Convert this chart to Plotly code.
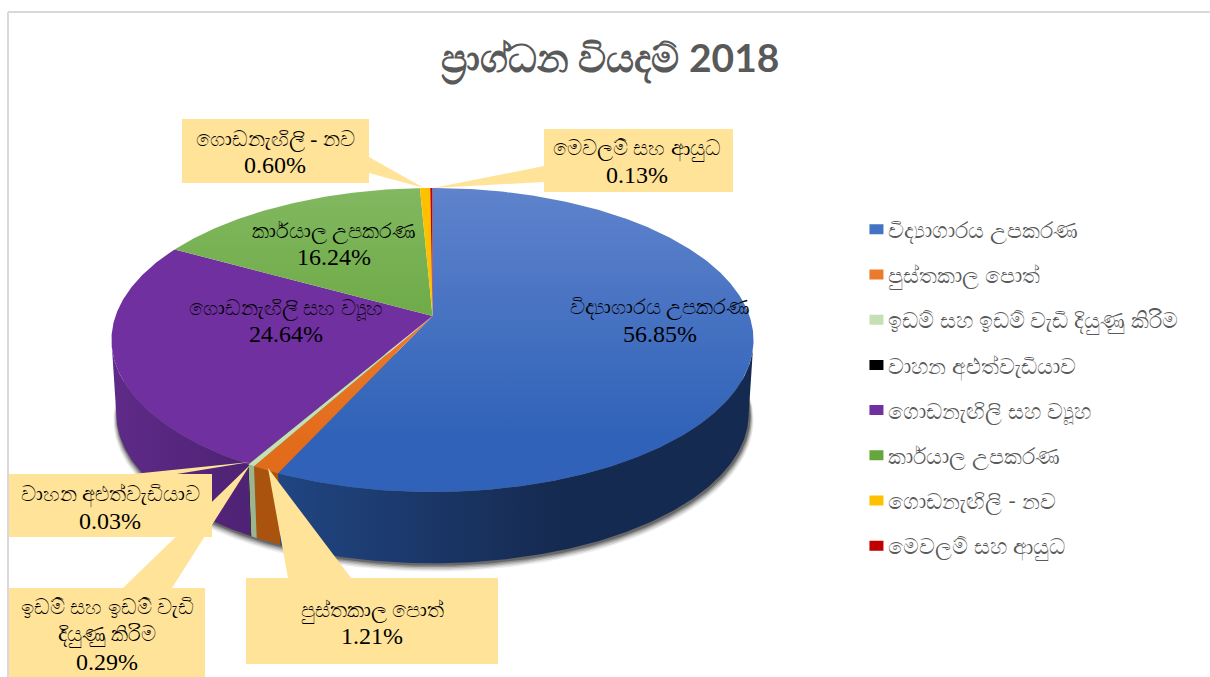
import numpy as np
import plotly.graph_objects as go

categories = ["විද්‍යාගාරය උපකරණ", "පුස්තකාල පොත්", "ඉඩම් සහ ඉඩම් වැඩි දියුණු කිරිම", "වාහන අළුත්වැඩියාව",
              "ගොඩනැඟිලි සහ ව්‍යූහ", "කාර්\u200cයාල උපකරණ", "ගොඩනැඟිලි - නව", "මෙවලම් සහ ආයුධ"]
values = [56.85, 1.21, 0.29, 0.03, 24.64, 16.24, 0.60, 0.13]
title_text = "ප්‍රාග්ධන වියදම් 2018"

top_light = ["#5F83CC", "#F08A45", "#C5E0B4", "#000000", "#7030A0", "#82B860", "#FFC000", "#C00000"]
top_dark = ["#2F62B8", "#E36C1A", "#C5E0B4", "#000000", "#7030A0", "#5C9E31", "#FFC000", "#C00000"]
side_light = ["#214684", "#A9530F", "#9DB58E", "#000000", "#5E2B88", "#4E7A2A", "#B08500", "#800000"]
side_dark = ["#152A50", "#A9530F", "#9DB58E", "#000000", "#4E2274", "#4E7A2A", "#B08500", "#800000"]
legend_keys = ["#4472C4", "#EC7A2D", "#C5E0B4", "#000000", "#7030A0", "#66A63C", "#FFC000", "#C00000"]

CX, CY, A, H, K = 432.5, 316.0, 317.0, 148.2, 0.1579
DEPTH, SHRINK = 74.0, 0.985
SERIF = "Liberation Serif"
SANS = "Lato"
BOX = "#FFE399"


def rim(t_deg):
    t = np.radians(np.asarray(t_deg, dtype=float))
    u, v = np.sin(t), np.cos(t)
    w = 1 + K * v
    return CX + A * u / w, CY - H * v / w


def low(x, y, extra=0.0):
    return CX + (x - CX) * (SHRINK + extra), CY + DEPTH + (y - CY) * (SHRINK + extra)


edges = np.concatenate([[0.0], np.cumsum(values)]) / sum(values) * 360.0
vis0 = np.degrees(np.arccos(-K))
vis1 = 360.0 - vis0

fig = go.Figure()

# soft shadow under the pie
tt = np.linspace(vis0 - 25, vis1 + 25, 240)
sx, sy = rim(tt)
for i, alpha in enumerate([0.07, 0.10, 0.14, 0.20, 0.28]):
    grow = (5 - i) * 0.0024
    bx, by = low(sx, sy, grow)
    fig.add_trace(go.Scatter(x=bx + 1, y=by + (5 - i) * 1.0 + 1, mode="lines", fill="toself",
                             fillcolor=f"rgba(0,0,0,{alpha})", line=dict(width=0),
                             hoverinfo="skip", showlegend=False))

# side walls
for i in range(len(values)):
    a0, a1 = max(edges[i], vis0), min(edges[i + 1], vis1)
    if a1 <= a0:
        continue
    t = np.linspace(a0, a1, max(2, int((a1 - a0) * 2)))
    x, y = rim(t)
    bx, by = low(x, y)
    fig.add_trace(go.Scatter(
        x=np.concatenate([x, bx[::-1]]), y=np.concatenate([y, by[::-1]]),
        mode="lines", fill="toself", line=dict(width=0),
        fillgradient=dict(type="horizontal", colorscale=[[0, side_light[i]], [1, side_dark[i]]],
                          start=270 if i == 0 else None, stop=560 if i == 0 else None),
        hoverinfo="skip", showlegend=False))

# top face
for i, (name, val) in enumerate(zip(categories, values)):
    t = np.linspace(edges[i], edges[i + 1], max(2, int((edges[i + 1] - edges[i]) * 2)))
    x, y = rim(t)
    fig.add_trace(go.Scatter(
        x=np.concatenate([[CX], x, [CX]]), y=np.concatenate([[CY], y, [CY]]),
        mode="lines", fill="toself", line=dict(width=0),
        fillgradient=dict(type="vertical", colorscale=[[0, top_light[i]], [1, top_dark[i]]],
                          start=188, stop=440),
        name=name, hovertemplate=f"{name}<br>{val:.2f}%<extra></extra>", showlegend=False))

# legend keys
for i, name in enumerate(categories):
    fig.add_trace(go.Scatter(x=[None], y=[None], mode="lines", name=name, legendgroup=name,
                             line=dict(color=legend_keys[i], width=14, dash="0px,16px,14px,100px")))

# callouts: (box x0, y0, x1, y1), wedge polygon
callouts = [
    ((182, 119, 369, 183), [(369, 157), (369, 173), (424, 188)]),
    ((544, 129, 733, 192), [(544, 166), (544, 182), (433, 188)]),
    ((9, 474, 212, 537), [(133, 474), (177, 474), (250, 462)]),
    ((9, 588, 205, 677), [(123, 588), (172, 588), (250, 465)]),
    ((246, 578, 498, 664), [(288, 578), (351, 578), (268, 468)]),
]
shapes = []
for (x0, y0, x1, y1), wedge in callouts:
    shapes.append(dict(type="path", layer="above", fillcolor=BOX, line=dict(width=0),
                       path="M" + " L".join(f"{a},{b}" for a, b in wedge) + " Z"))
for (x0, y0, x1, y1), wedge in callouts:
    shapes.append(dict(type="rect", layer="above", x0=x0, y0=y0, x1=x1, y1=y1,
                       fillcolor=BOX, line=dict(width=0)))
# chart frame
shapes.append(dict(type="line", layer="below", x0=8, x1=8, y0=12, y1=677, line=dict(color="#D9D9D9", width=2)))
shapes.append(dict(type="line", layer="below", x0=8, x1=1210, y0=12, y1=12, line=dict(color="#D9D9D9", width=2)))

# data labels: category index -> text centre and line layout
label_pos = {
    0: (660, [(categories[0], 307)], 334),
    1: (372, [(categories[1], 611)], 636),
    2: (107, [("ඉඩම් සහ ඉඩම් වැඩි", 607), ("දියුණු කිරිම", 635)], 662),
    3: (110, [(categories[3], 495)], 521),
    4: (286, [(categories[4], 308)], 334),
    5: (334, [(categories[5], 231)], 257),
    6: (275, [(categories[6], 139)], 165),
    7: (637, [(categories[7], 149)], 175),
}
annotations = []
for i, (cx, lines, py) in label_pos.items():
    for text, ly in lines:
        annotations.append(dict(x=cx, y=ly, text=text, showarrow=False, xanchor="center", yanchor="middle",
                                font=dict(family=SERIF, size=21.2, color="#000000")))
    annotations.append(dict(x=cx, y=py, text=f"{values[i]:.2f}%", showarrow=False, xanchor="center",
                            yanchor="middle", font=dict(family=SERIF, size=24, color="#000000")))
annotations.append(dict(x=610, y=59, text=f"<b>{title_text}</b>", showarrow=False, xanchor="center",
                        yanchor="middle", font=dict(family=SANS, size=39, color="#595959")))

fig.update_layout(
    width=1210, height=677, margin=dict(l=0, r=0, t=0, b=0),
    paper_bgcolor="white", plot_bgcolor="white",
    xaxis=dict(visible=False, range=[0, 1210], fixedrange=True),
    yaxis=dict(visible=False, range=[677, 0], fixedrange=True),
    shapes=shapes, annotations=annotations,
    legend=dict(x=0.7012, y=0.692, xanchor="left", yanchor="top", bgcolor="rgba(0,0,0,0)",
                font=dict(family=SANS, size=22, color="#595959"), tracegroupgap=13.6),
)
fig.write_html("out.html", config=dict(displayModeBar=False),
               post_script="document.body.style.margin='0';")
